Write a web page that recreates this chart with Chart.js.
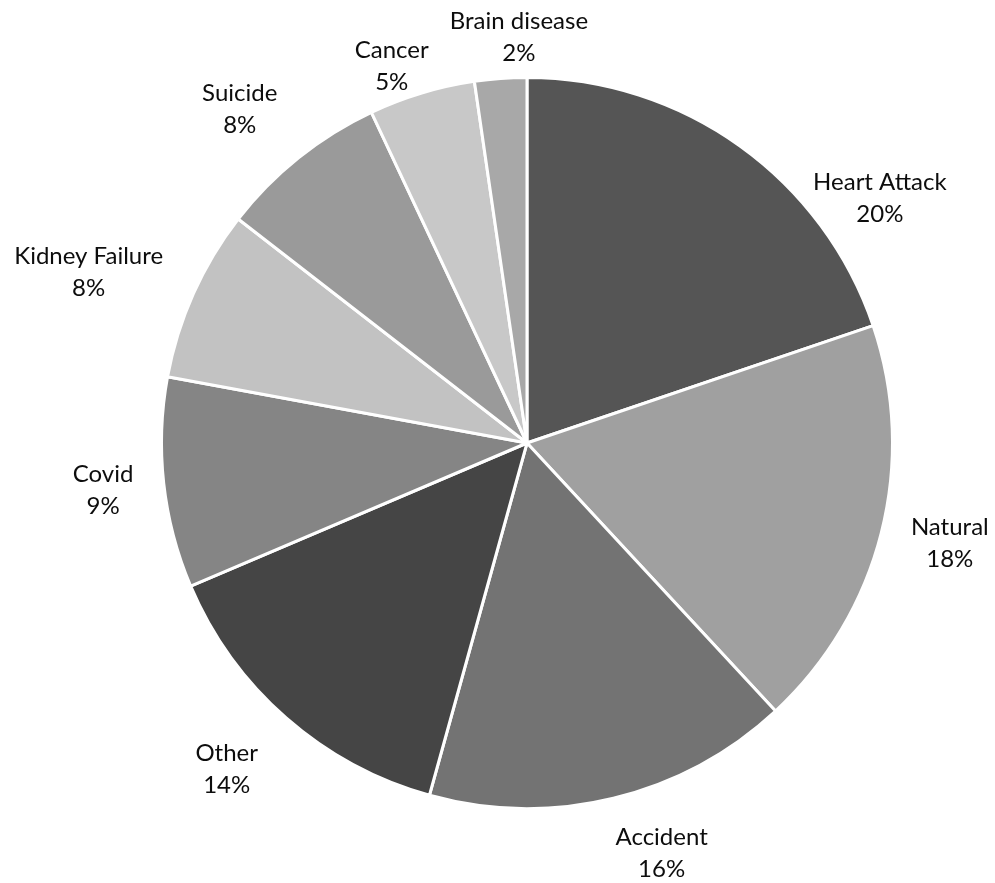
<!DOCTYPE html>
<html>
<head>
<meta charset="utf-8">
<script src="https://cdn.jsdelivr.net/npm/chart.js@4.4.1/dist/chart.umd.min.js"></script>
<style>
  html, body { margin: 0; padding: 0; background: #fff; }
  #wrap { width: 995px; height: 883px; }
</style>
</head>
<body>
<div id="wrap"><canvas id="myChart" width="995" height="883"></canvas></div>
<script>
// causes of death, share of total (%)
var causes = ['Heart Attack', 'Natural', 'Accident', 'Other', 'Covid', 'Kidney Failure', 'Suicide', 'Cancer', 'Brain disease'];
var shares = [19.8, 18.3, 16.2, 14.3, 9.3, 7.6, 7.5, 4.7, 2.3];
var greys = ['#555555', '#a0a0a0', '#737373', '#454545', '#858585', '#c2c2c2', '#9a9a9a', '#c8c8c8', '#a8a8a8'];

// label nudges: extra angle (deg) and distance past the rim (px)
var labelTurn = [19.6, -0.9, -4.5, 1.4, 0, -2.8, -2, -3, 3];
var labelDist = [64, 69, 66, 78, 61, 105, 75, 35, 40];

var outsideLabels = {
    id: 'outsideLabels',
    afterDatasetsDraw: function(chart) {
        var ctx = chart.ctx;
        var arcs = chart.getDatasetMeta(0).data;
        var total = shares.reduce(function(a, b) { return a + b; }, 0);
        ctx.save();
        ctx.font = '24px Lato';
        ctx.fillStyle = '#0d0d0d';
        ctx.textAlign = 'center';
        ctx.textBaseline = 'middle';
        arcs.forEach(function(arc, i) {
            var p = arc.getProps(['x', 'y', 'startAngle', 'endAngle', 'outerRadius'], true);
            var mid = (p.startAngle + p.endAngle) / 2 + labelTurn[i] * Math.PI / 180;
            var d = p.outerRadius + labelDist[i];
            var cx = p.x + Math.cos(mid) * d;
            var cy = p.y + Math.sin(mid) * d;
            var pct = Math.round(shares[i] / total * 100) + '%';
            ctx.fillText(causes[i], cx, cy - 16);
            ctx.fillText(pct, cx, cy + 16);
        });
        ctx.restore();
    }
};

var ctx = document.getElementById('myChart').getContext('2d');
var myPieChart = new Chart(ctx, {
    type: 'pie',
    data: {
        labels: causes,
        datasets: [{
            data: shares,
            backgroundColor: greys,
            borderColor: '#ffffff',
            borderWidth: 3
        }]
    },
    options: {
        responsive: false,
        devicePixelRatio: 1,
        animation: false,
        layout: { padding: { top: 76, bottom: 73, left: 160, right: 101 } },
        plugins: {
            legend: { display: false },
            tooltip: { enabled: false }
        }
    },
    plugins: [outsideLabels]
});
</script>
</body>
</html>
